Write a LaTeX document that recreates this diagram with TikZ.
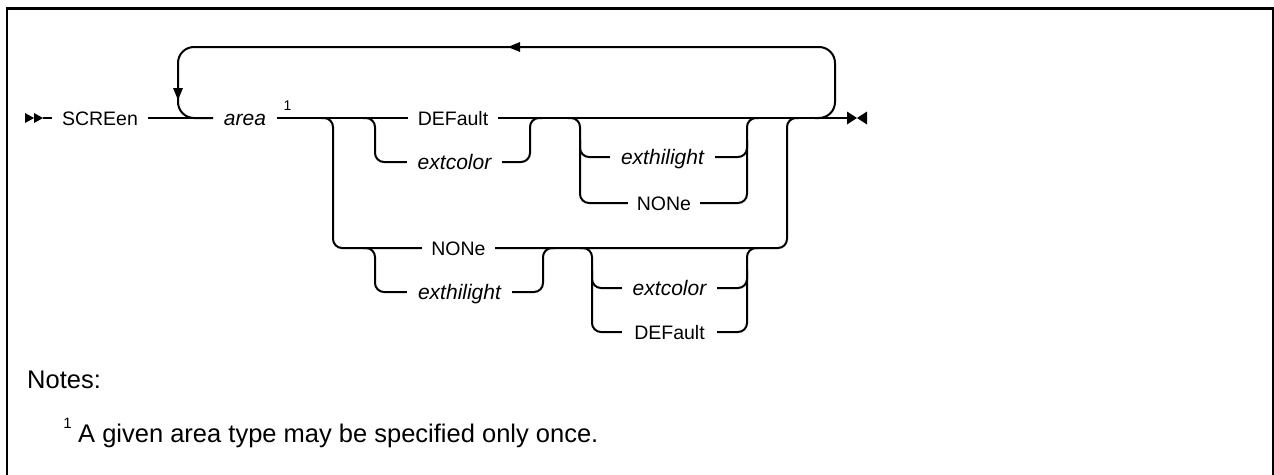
\documentclass[tikz,border=0pt]{standalone}
\usepackage{fontspec}
\setmainfont{Liberation Sans}
\usetikzlibrary{calc}
\begin{document}
\begin{tikzpicture}[x=1pt,y=-1pt,
  rr/.style={line width=2pt},
  rc/.style={rr, rounded corners=9pt},
  loopline/.style={rr, rounded corners=16pt},
  kw/.style={font=\fontsize{19.5}{20}\selectfont, inner sep=0pt, text height=14pt, text depth=0pt},
  var/.style={font=\fontsize{21}{22}\selectfont\itshape, inner sep=0pt, text height=14pt, text depth=0pt},
  supnum/.style={font=\fontsize{14}{15}\selectfont, inner sep=0pt, anchor=base},
  notetext/.style={font=\fontsize{25.5}{27}\selectfont, inner sep=0pt, anchor=base west},
  tip/.style={fill=black, draw=none}]
\useasboundingbox (0,0) rectangle (1274,474);
% frame
\draw[line width=2.5pt] (7,520) -- (7,8.5) -- (1273,8.5) -- (1273,520);

% text nodes
\node[kw, minimum width=96pt] (screen) at (100,118) {SCREen};
\node[var, minimum width=64pt] (area) at (245,118) {area};
\node[supnum] (n1) at (287.5,110) {1};
\node[kw, minimum width=90pt] (def1) at (453,118) {DEFault};
\node[var, minimum width=95pt] (ext1) at (454.5,162) {extcolor};
\node[var, minimum width=105pt] (hil1) at (662.5,157) {exthilight};
\node[kw, minimum width=72pt] (none1) at (664,203) {NONe};
\node[kw, minimum width=73pt] (none2) at (458.5,248) {NONe};
\node[var, minimum width=105pt] (hil2) at (459.5,292) {exthilight};
\node[var, minimum width=95pt] (ext2) at (669.5,288) {extcolor};
\node[kw, minimum width=95pt] (def2) at (669.5,332) {DEFault};

% coordinates
\coordinate (aend) at (43,118);
\coordinate (endpt) at (847,118);
\coordinate (b333) at (333,118);
\coordinate (b375) at (375,118);
\coordinate (m530) at (530,118);
\coordinate (b580) at (580,118);
\coordinate (m747) at (747,118);
\coordinate (m787) at (787,118);
\coordinate (l375) at (375,248);
\coordinate (m543) at (543,248);
\coordinate (b592) at (592,248);
\coordinate (m747l) at (747,248);

% start and end marks
\fill[tip] (25,113) -- (34,118) -- (25,123) -- cycle;
\fill[tip] (34,113) -- (43,118) -- (34,123) -- cycle;
\fill[tip] (847,111.5) -- (857,118) -- (847,124.5) -- cycle;
\fill[tip] (867,111.5) -- (857,118) -- (867,124.5) -- cycle;

% main line
\draw[rr] (aend) -- (screen.west);
\draw[rr] (screen.east) -- (area.west);
\draw[rr] (area.east) -- (def1.west);
\draw[rr] (def1.east) -- (endpt);

% repeat loop
\draw[loopline] ($(m787)+(28,0)$) -| (835,47) -| (178,118) -- ($(b333)+(-120,0)$);
\fill[tip] (508,47) -- (520,42) -- (520,52) -- cycle;
\fill[tip] (178,100) -- (173,88) -- (183,88) -- cycle;

% upper group 1
\draw[rc] ($(b375)+(-12,0)$) -- (b375) |- (ext1.west);
\draw[rc] (ext1.east) -| (m530) -- ++(12,0);

% upper group 2
\draw[rc] ($(b580)+(-12,0)$) -- (b580) |- (none1.west);
\draw[rc] (580,140) |- (hil1.west);
\draw[rc] (none1.east) -| (m747) -- ++(12,0);
\draw[rc] (hil1.east) -| (747,140);

% lower branch
\draw[rc] ($(b333)+(-12,0)$) -- (b333) |- (none2.west);
\draw[rc] ($(l375)+(-12,0)$) -- (l375) |- (hil2.west);
\draw[rc] (hil2.east) -| (m543) -- ++(12,0);
\draw[rc] (none2.east) -| (m787) -- ++(12,0);

% lower group 2
\draw[rc] ($(b592)+(-12,0)$) -- (b592) |- (def2.west);
\draw[rc] (592,270) |- (ext2.west);
\draw[rc] (def2.east) -| (m747l) -- ++(12,0);
\draw[rc] (ext2.east) -| (747,270);

% notes
\node[notetext] (notes) at (27,388) {Notes:};
\node[supnum, font=\fontsize{15}{16}\selectfont] (fn1) at (67.5,428) {1};
\node[notetext] (fntext) at (78,442) {A given area type may be specified only once.};
\end{tikzpicture}
\end{document}
